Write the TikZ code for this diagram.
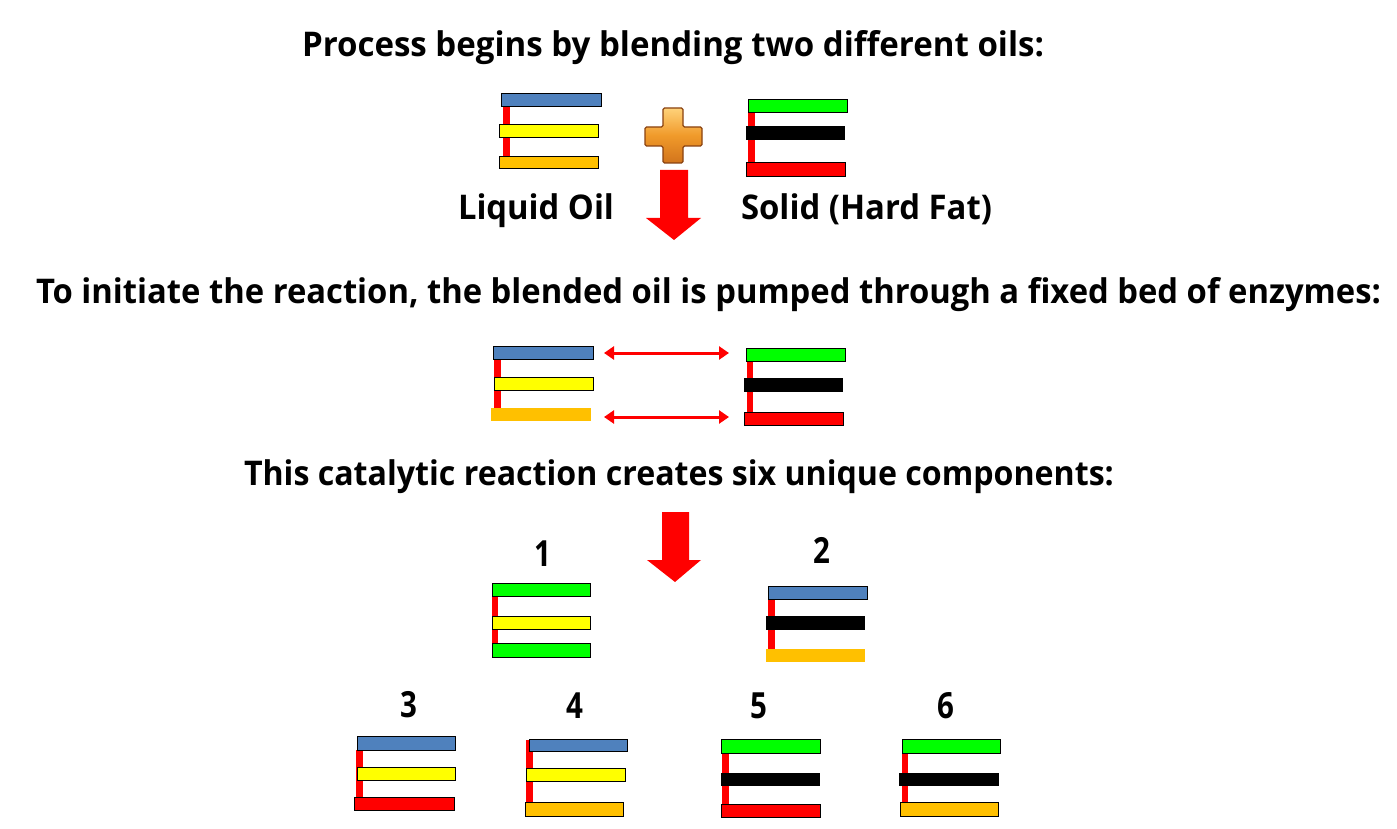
\documentclass[tikz,border=0pt]{standalone}
\usepackage{fontspec}
\setmainfont{Open Sans}
\usepackage{graphicx}
\usetikzlibrary{arrows.meta}
\definecolor{oblue}{HTML}{4F81BD}
\definecolor{oyellow}{HTML}{FFFF00}
\definecolor{oorange}{HTML}{FFC000}
\definecolor{ogreen}{HTML}{00FF00}
\definecolor{ored}{HTML}{FF0000}
\definecolor{pluslight}{HTML}{FFD27A}
\definecolor{plusmid}{HTML}{F09A2A}
\definecolor{plusdark}{HTML}{D2741C}
\definecolor{plusedge}{HTML}{8A4210}
\newcommand{\fitlbl}[2]{\resizebox{#1pt}{\height}{\fontsize{34}{40}\selectfont\bfseries #2}}
\newcommand{\numlbl}[1]{\scalebox{0.82}[1]{\fontsize{36}{40}\selectfont\bfseries #1}}
\tikzset{
  txt/.style={inner sep=0pt, outer sep=0pt, anchor=base west},
  num/.style={inner sep=0pt, outer sep=0pt, anchor=base},
  bb/.style={draw=black, line width=0.9pt},
  backbone/.style={fill=ored, draw=none},
  bigarrow/.style={fill=ored, draw=none},
  dbl/.style={draw=ored, line width=3pt, {Triangle[length=10pt,width=13pt]}-{Triangle[length=10pt,width=13pt]}}
}
\begin{document}
\begin{tikzpicture}[x=1pt,y=-1pt]
\useasboundingbox (0,0) rectangle (1397,829);
\fill[white] (0,0) rectangle (1397,829);

% ---------- texts ----------
\node[txt] (t1) at (302,57) {\fitlbl{742}{Process begins by blending two different oils:}};
\node[txt] (liq) at (458,219) {\fitlbl{156}{Liquid Oil}};
\node[txt] (sol) at (741,219) {\fitlbl{251}{Solid (Hard Fat)}};
\node[txt] (t2) at (36,303) {\fitlbl{1345}{To initiate the reaction, the blended oil is pumped through a fixed bed of enzymes:}};
\node[txt] (t3) at (244,485) {\fitlbl{870}{This catalytic reaction creates six unique components:}};
\node[num] (n1) at (543,566) {\numlbl{1}};
\node[num] (n2) at (822,563) {\numlbl{2}};
\node[num] (n3) at (409,717) {\numlbl{3}};
\node[num] (n4) at (575,718) {\numlbl{4}};
\node[num] (n5) at (759,718) {\numlbl{5}};
\node[num] (n6) at (946,718) {\numlbl{6}};

% ---------- top: liquid oil ----------
\fill[backbone] (503,106) rectangle (510,157);
\draw[bb, fill=oblue] (501,93) rectangle (601,106);
\draw[bb, fill=oyellow] (499,124) rectangle (598,137);
\draw[bb, fill=oorange] (499,156) rectangle (598,168);

% ---------- top: solid fat ----------
\fill[backbone] (748,112) rectangle (755,162);
\draw[bb, fill=ogreen] (748,99) rectangle (847,112);
\fill[black] (746,126) rectangle (845,140);
\draw[bb, fill=ored] (746,162) rectangle (845,176);

% ---------- plus sign ----------
\shade[top color=pluslight, bottom color=plusdark, middle color=plusmid, draw=plusedge, line width=1.2pt, rounded corners=1.5pt]
  (663,108) -- (683,108) -- (683,127) -- (702,127) -- (702,146) -- (683,146) -- (683,163)
  -- (663,163) -- (663,146) -- (645,146) -- (645,127) -- (663,127) -- cycle;

% ---------- arrow 1 ----------
\fill[bigarrow] (660,170) -- (688,170) -- (688,218) -- (701,218) -- (674,240) -- (646,218) -- (660,218) -- cycle;

% ---------- middle: blended oil ----------
\fill[backbone] (494,359) rectangle (501,408);
\draw[bb, fill=oblue] (493,346) rectangle (593,359);
\draw[bb, fill=oyellow] (494,377) rectangle (593,390);
\fill[oorange] (491,408) rectangle (591,421);

\fill[backbone] (747,361) rectangle (753,412);
\draw[bb, fill=ogreen] (746,348) rectangle (845,361);
\fill[black] (744,378) rectangle (843,392);
\draw[bb, fill=ored] (744,412) rectangle (843,425);

\coordinate (a1) at (604,353);
\coordinate (b1) at (729,353);
\coordinate (a2) at (604,417);
\coordinate (b2) at (729,417);
\draw[dbl] (a1) -- (b1);
\draw[dbl] (a2) -- (b2);

% ---------- arrow 2 ----------
\fill[bigarrow] (662,512) -- (689,512) -- (689,560) -- (701,560) -- (675,582) -- (647,560) -- (662,560) -- cycle;

% ---------- component 1 ----------
\fill[backbone] (492,596) rectangle (498,657);
\draw[bb, fill=ogreen] (492,583) rectangle (590,596);
\draw[bb, fill=oyellow] (492,616) rectangle (590,629);
\draw[bb, fill=ogreen] (492,643) rectangle (590,657);

% ---------- component 2 ----------
\fill[backbone] (768,599) rectangle (775,649);
\draw[bb, fill=oblue] (768,586) rectangle (867,599);
\fill[black] (766,616) rectangle (865,630);
\fill[oorange] (766,649) rectangle (865,662);

% ---------- component 3 ----------
\fill[backbone] (356,750) rectangle (363,810);
\draw[bb, fill=oblue] (357,736) rectangle (455,750);
\draw[bb, fill=oyellow] (357,767) rectangle (455,780);
\draw[bb, fill=ored] (354,797) rectangle (454,810);

% ---------- component 4 ----------
\fill[backbone] (526,740) rectangle (533,802);
\draw[bb, fill=oblue] (529,739) rectangle (627,751);
\draw[bb, fill=oyellow] (526,768) rectangle (625,781);
\draw[bb, fill=oorange] (525,802) rectangle (623,816);

% ---------- component 5 ----------
\fill[backbone] (722,753) rectangle (729,804);
\draw[bb, fill=ogreen] (721,739) rectangle (820,753);
\fill[black] (721,773) rectangle (820,786);
\draw[bb, fill=ored] (721,804) rectangle (820,817);

% ---------- component 6 ----------
\fill[backbone] (902,753) rectangle (908,802);
\draw[bb, fill=ogreen] (902,739) rectangle (1000,753);
\fill[black] (899,773) rectangle (999,786);
\draw[bb, fill=oorange] (900,802) rectangle (998,816);
\end{tikzpicture}
\end{document}
